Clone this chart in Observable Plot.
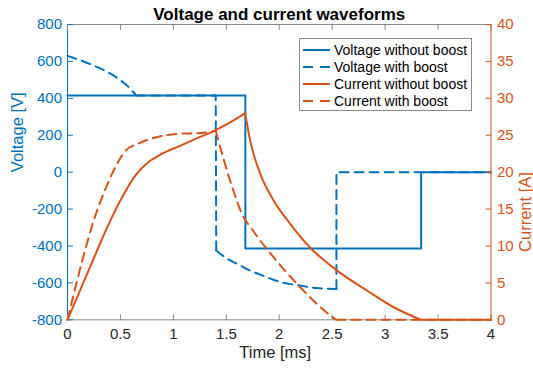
<!DOCTYPE html>
<html>
<head>
<meta charset="utf-8">
<script src="https://cdn.jsdelivr.net/npm/d3@7"></script>
<script src="https://cdn.jsdelivr.net/npm/@observablehq/plot@0.6"></script>
<style>
  body { margin: 0; background: #fff; font-family: "Liberation Sans", Arial, Helvetica, sans-serif; }
  #fig { position: relative; width: 533px; height: 370px; overflow: hidden; }
  #fig svg { position: absolute; left: 0; top: 0; }
  #legend {
    position: absolute; left: 299px; top: 38px; width: 173px; height: 73px;
    box-sizing: border-box; border: 1px solid #8c8c8c; background: #fff;
    padding: 3px 0 0 3px; font-size: 14px; color: #000;
  }
  #legend .row { display: flex; align-items: center; height: 16.8px; white-space: nowrap; }
  #legend svg { position: static; margin-right: 4px; flex: none; }
</style>
</head>
<body>
<div id="fig"></div>
<script>
// Colours of the two y axes and their series
const blue = "#0072BD";
const orange = "#D95319";
const frameGray = "#8a8a8a";
const textDark = "#262626";

// Tick values
const timeTicks = [0, 0.5, 1, 1.5, 2, 2.5, 3, 3.5, 4];
const voltageTicks = [-800, -600, -400, -200, 0, 200, 400, 600, 800];
const currentTicks = [0, 5, 10, 15, 20, 25, 30, 35, 40];

// Voltage without boost [ms], [V] (piecewise constant)
const tVoltNoBoost = [0, 1.68, 1.68, 3.34, 3.34, 4];
const vVoltNoBoost = [415, 415, -414, -414, 0, 0];

// Voltage with boost [ms], [V]
const tVoltBoostDischarge = [0, 0.245, 0.434, 0.608, 0.65];
const vVoltBoostDischarge = [630, 578, 524, 443, 415];
const tVoltBoostHold = [0.65, 1.40, 1.405];
const vVoltBoostHold = [415, 415, -424];
const tVoltBoostReverse = [1.405, 1.5, 1.63, 1.71, 1.82, 2.0, 2.19, 2.35, 2.54];
const vVoltBoostReverse = [-424, -466, -505, -530, -555, -594, -614, -628, -633];
const tVoltBoostOff = [2.54, 2.54, 4];
const vVoltBoostOff = [-633, 0, 0];

// Current without boost [ms], [A]
const tCurrNoBoostRise = [0, 0.139, 0.265, 0.39, 0.516, 0.642, 0.768, 0.894, 1.05, 1.21, 1.40, 1.52, 1.678];
const iCurrNoBoostRise = [0, 4.65, 8.9, 13.0, 16.6, 19.55, 21.4, 22.5, 23.5, 24.5, 25.7, 26.6, 28.0];
const tCurrNoBoostFall = [1.678, 1.725, 1.82, 1.945, 2.103, 2.29, 2.544, 2.827, 3.08, 3.34];
const iCurrNoBoostFall = [28.0, 24.3, 19.8, 16.2, 13.0, 9.8, 6.7, 3.97, 1.7, 0];
const tCurrNoBoostOff = [3.34, 4];
const iCurrNoBoostOff = [0, 0];

// Current with boost [ms], [A]
const tCurrBoostRise = [0, 0.044, 0.139, 0.249, 0.359, 0.453, 0.548, 0.674, 0.83, 1.05, 1.27, 1.40];
const iCurrBoostRise = [0, 2.6, 8.0, 13.5, 17.75, 20.7, 22.9, 23.9, 24.7, 25.2, 25.3, 25.6];
const tCurrBoostFall = [1.40, 1.46, 1.555, 1.65, 1.756, 1.945, 2.166, 2.323, 2.48, 2.54];
const iCurrBoostFall = [25.6, 22.5, 18.0, 14.3, 12.0, 8.5, 4.9, 2.6, 0.6, 0];
const tCurrBoostOff = [2.54, 4];
const iCurrBoostOff = [0, 0];

const legendItems = [
  { label: "Voltage without boost", color: blue, dashed: false },
  { label: "Voltage with boost", color: blue, dashed: true },
  { label: "Current without boost", color: orange, dashed: false },
  { label: "Current with boost", color: orange, dashed: true }
];

const zip = (ts, vs) => ts.map((t, i) => ({ t, v: vs[i] }));

const W = 533, H = 370;
const layout = { width: W, height: H, marginLeft: 67, marginRight: 42.5, marginTop: 24, marginBottom: 50.7 };
const font = "'Liberation Sans', Arial, Helvetica, sans-serif";
const dash = "9,6";

// One line mark per piece: smooth pieces use a monotone curve, steps stay straight
function trace(pieces, stroke, dashed) {
  return pieces.map(([ts, vs, smooth]) =>
    Plot.line(zip(ts, vs), {
      x: "t", y: "v", stroke, strokeWidth: 2,
      strokeDasharray: dashed ? dash : null,
      curve: smooth ? "monotone-x" : "linear"
    })
  );
}

// Short inward tick drawn from the anchor point
const tickShape = { draw(context, l) { context.moveTo(0, 0); context.lineTo(0, -l); } };
const ticks = (data, opts) => Plot.vector(data, { length: 5, anchor: "start", shape: tickShape, strokeWidth: 1, ...opts });

// Left axis: voltage
const voltagePlot = Plot.plot({
  ...layout,
  style: { background: "transparent", fontFamily: font, overflow: "visible" },
  x: { domain: [0, 4] },
  y: { domain: [-800, 800] },
  marks: [
    Plot.ruleY([-800, 800], { stroke: frameGray, strokeWidth: 1 }),
    Plot.ruleX([0], { stroke: blue, strokeWidth: 1 }),
    ticks(timeTicks, { x: d => d, y: -800, rotate: 0, stroke: frameGray }),
    ticks(timeTicks, { x: d => d, y: 800, rotate: 180, stroke: frameGray }),
    ticks(voltageTicks, { x: 0, y: d => d, rotate: 90, stroke: blue }),
    Plot.axisX({ ticks: timeTicks, tickSize: 0, tickPadding: 9, fontSize: 15, color: textDark, tickFormat: d => String(d), label: null }),
    Plot.axisY({ ticks: voltageTicks, tickSize: 0, tickPadding: 5.5, fontSize: 15, color: blue, tickFormat: d => String(d), label: null }),
    ...trace([[tVoltNoBoost, vVoltNoBoost, false]], blue, false),
    ...trace([
      [tVoltBoostDischarge, vVoltBoostDischarge, true],
      [tVoltBoostHold, vVoltBoostHold, false],
      [tVoltBoostReverse, vVoltBoostReverse, true],
      [tVoltBoostOff, vVoltBoostOff, false]
    ], blue, true),
    Plot.text(["Voltage [V]"], { text: d => d, frameAnchor: "left", dx: -50, rotate: -90, fill: blue, fontSize: 16.5 }),
    Plot.text(["Time [ms]"], { text: d => d, frameAnchor: "bottom", dy: 38, dx: -4, fill: textDark, fontSize: 16.5 })
  ]
});

// Right axis: current, drawn on top
const currentPlot = Plot.plot({
  ...layout,
  style: { background: "transparent", fontFamily: font, overflow: "visible" },
  x: { domain: [0, 4], axis: null },
  y: { domain: [0, 40], axis: null },
  marks: [
    Plot.ruleX([4], { stroke: orange, strokeWidth: 1 }),
    ticks(currentTicks, { x: 4, y: d => d, rotate: 270, stroke: orange }),
    Plot.axisY({ anchor: "right", ticks: currentTicks, tickSize: 0, tickPadding: 6, fontSize: 15, color: orange, tickFormat: d => String(d), label: null }),
    ...trace([
      [tCurrNoBoostRise, iCurrNoBoostRise, true],
      [tCurrNoBoostFall, iCurrNoBoostFall, true],
      [tCurrNoBoostOff, iCurrNoBoostOff, false]
    ], orange, false),
    ...trace([
      [tCurrBoostRise, iCurrBoostRise, true],
      [tCurrBoostFall, iCurrBoostFall, true],
      [tCurrBoostOff, iCurrBoostOff, false]
    ], orange, true),
    Plot.text(["Current [A]"], { text: d => d, frameAnchor: "right", dx: 35, rotate: -90, fill: orange, fontSize: 16.5 }),
    Plot.text(["Voltage and current waveforms"], { text: d => d, frameAnchor: "top", dy: -5, lineAnchor: "bottom", fontWeight: "bold", fontSize: 17, fill: "#000" })
  ]
});

const fig = document.getElementById("fig");
fig.appendChild(voltagePlot);
fig.appendChild(currentPlot);

// Legend box
const legend = document.createElement("div");
legend.id = "legend";
for (const item of legendItems) {
  const row = document.createElement("div");
  row.className = "row";
  const sample = d3.create("svg").attr("width", 27).attr("height", 4);
  sample.append("line")
    .attr("x1", 0).attr("x2", 27).attr("y1", 2).attr("y2", 2)
    .attr("stroke", item.color).attr("stroke-width", 2)
    .attr("stroke-dasharray", item.dashed ? "10,7" : null);
  row.appendChild(sample.node());
  const label = document.createElement("span");
  label.textContent = item.label;
  row.appendChild(label);
  legend.appendChild(row);
}
fig.appendChild(legend);
</script>
</body>
</html>
